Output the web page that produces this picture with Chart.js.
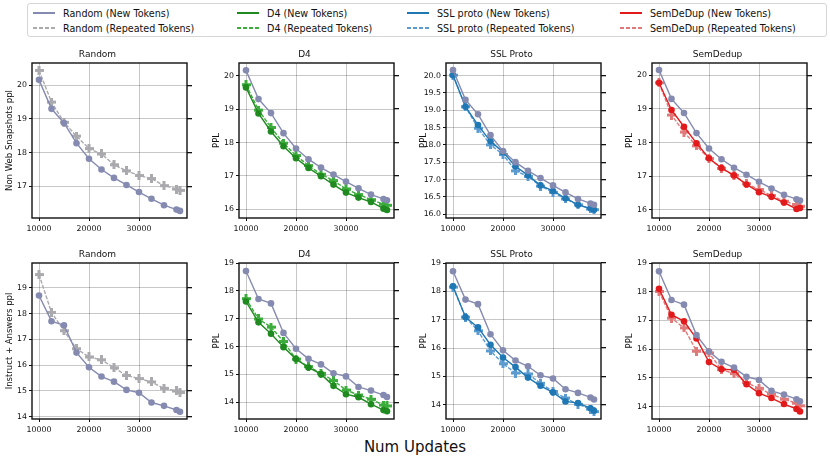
<!DOCTYPE html>
<html>
<head>
<meta charset="utf-8">
<script src="https://cdn.jsdelivr.net/npm/chart.js@4.4.1/dist/chart.umd.min.js"></script>
<style>
  body { margin: 0; background: #fff; font-family: "DejaVu Sans", sans-serif; }
  #page { position: relative; width: 830px; height: 461px; overflow: hidden; }
  .panel { position: absolute; }
  #legend { position: absolute; left: 27px; top: 3px; width: 800px; height: 34px;
            border: 1px solid #d6d6d6; border-radius: 3px; box-sizing: border-box; }
  .leg-item { position: absolute; height: 14px; display: flex; align-items: center;
              font-size: 9.6px; color: #111; white-space: nowrap; }
  .leg-line { width: 22px; height: 1.5px; margin-right: 8px; }
  #xlabel { position: absolute; left: 0; width: 830px; top: 438px; text-align: center;
            font-size: 15px; color: #111; }
</style>
</head>
<body>
<div id="page">
  <div id="legend"></div>
  <div id="xlabel">Num Updates</div>
</div>
<script>
// --- DATA ---
const updates = [10000, 12500, 15000, 17500, 20000, 22500, 25000, 27500, 30000, 32500, 35000, 37500, 38200];

// Non Web Snapshots ppl
const randomNonWebNew = [20.16, 19.30, 18.88, 18.28, 17.82, 17.50, 17.25, 17.04, 16.83, 16.63, 16.44, 16.31, 16.27];
const randomNonWebRep = [20.44, 19.50, 18.90, 18.49, 18.12, 17.96, 17.64, 17.46, 17.32, 17.23, 17.02, 16.92, 16.88];
const d4NonWebNew = [19.65, 18.87, 18.33, 17.89, 17.53, 17.24, 16.99, 16.74, 16.50, 16.35, 16.22, 16.02, 15.98];
const d4NonWebRep = [19.73, 18.97, 18.45, 17.98, 17.61, 17.31, 17.05, 16.86, 16.61, 16.44, 16.29, 16.15, 16.12];
const sslNonWebNew = [20.01, 19.10, 18.57, 18.10, 17.79, 17.38, 17.12, 16.83, 16.67, 16.46, 16.27, 16.17, 16.13];
const sslNonWebRep = [20.01, 19.10, 18.48, 18.00, 17.72, 17.25, 17.09, 16.81, 16.63, 16.44, 16.27, 16.15, 16.13];
const semNonWebNew = [19.78, 18.97, 18.47, 17.98, 17.53, 17.24, 17.02, 16.75, 16.52, 16.38, 16.21, 16.02, 16.05];
const semNonWebRep = [19.78, 18.82, 18.31, 17.90, 17.52, 17.23, 17.02, 16.77, 16.60, 16.42, 16.25, 16.15, 16.10];

// Instruct + Answers ppl
const randomInstNew = [18.71, 17.71, 17.55, 16.49, 15.92, 15.56, 15.36, 15.04, 14.93, 14.55, 14.42, 14.26, 14.19];
const randomInstRep = [19.52, 18.05, 17.34, 16.64, 16.32, 16.21, 15.90, 15.60, 15.48, 15.35, 15.10, 15.00, 14.94];
const d4InstNew = [17.62, 16.87, 16.46, 15.98, 15.55, 15.25, 15.01, 14.59, 14.29, 14.18, 13.93, 13.72, 13.68];
const d4InstRep = [17.72, 16.99, 16.70, 16.18, 15.55, 15.28, 15.04, 14.78, 14.44, 14.26, 14.11, 13.90, 13.87];
const sslInstNew = [18.18, 17.09, 16.73, 16.12, 15.67, 15.33, 14.96, 14.67, 14.44, 14.12, 14.06, 13.88, 13.79];
const sslInstRep = [18.15, 17.09, 16.61, 15.90, 15.45, 15.12, 15.09, 14.76, 14.47, 14.24, 14.02, 13.85, 13.76];
const semInstNew = [18.10, 17.20, 16.97, 16.37, 15.55, 15.30, 15.28, 14.78, 14.47, 14.30, 14.09, 13.92, 13.83];
const semInstRep = [18.01, 17.08, 16.74, 15.93, 15.87, 15.29, 15.15, 14.84, 14.64, 14.43, 14.26, 14.12, 14.03];

// Tick labels
const xTicks = [10000, 20000, 30000];
const randomNonWebTicks = [17, 18, 19, 20];
const nonWebTicks = [16, 17, 18, 19, 20];
const sslNonWebTicks = [16.0, 16.5, 17.0, 17.5, 18.0, 18.5, 19.0, 19.5, 20.0];
const instTicks = [14, 15, 16, 17, 18, 19];

// Legend / series names
const methodNames = ['Random', 'D4', 'SSL proto', 'SemDeDup'];
const newColors = ['#858bb0', '#1f8a1f', '#1f77b4', '#e31a1c'];
const repColors = ['#a9a9ae', '#3cac3c', '#5b9bd0', '#e07a7a'];

// --- HELPERS ---

// filled "plus" marker, like matplotlib's 'P'
function plusMarker(color) {
    const c = document.createElement('canvas');
    c.width = 9; c.height = 9;
    const g = c.getContext('2d');
    g.fillStyle = color;
    g.fillRect(3, 0, 3, 9);
    g.fillRect(0, 3, 9, 3);
    return c;
}

function series(values, color, repeated) {
    return {
        data: values.map((v, i) => ({ x: updates[i], y: v })),
        borderColor: color,
        backgroundColor: color,
        borderWidth: 1.4,
        borderDash: repeated ? [4, 1.5] : [],
        pointStyle: repeated ? plusMarker(color) : 'circle',
        pointRadius: 3.3,
        pointBorderWidth: 0,
        tension: 0
    };
}

// black box round the plot area (matplotlib spines)
const framePlugin = {
    id: 'frame',
    afterDraw(chart) {
        const { ctx, chartArea: a } = chart;
        ctx.save();
        ctx.strokeStyle = '#111';
        ctx.lineWidth = 1.4;
        ctx.strokeRect(a.left, a.top, a.right - a.left, a.bottom - a.top);
        ctx.restore();
    }
};

const tickFont = { family: 'DejaVu Sans', size: 7.8 };
const gridColor = 'rgba(0,0,0,0.22)';

/**
 * Builds one subplot at a given plot-area rectangle.
 */
function makePanel(p) {
    const L = 32, R = 8, T = 14, B = 18;
    const box = document.createElement('div');
    box.className = 'panel';
    box.style.left = (p.left - L) + 'px';
    box.style.top = (p.top - T) + 'px';
    const canvas = document.createElement('canvas');
    const w = L + p.w + R, h = T + p.h + B;
    canvas.width = w; canvas.height = h;
    canvas.style.width = w + 'px'; canvas.style.height = h + 'px';
    box.appendChild(canvas);
    document.getElementById('page').appendChild(box);

    const fmt = v => p.decimals ? v.toFixed(1) : String(v);
    new Chart(canvas.getContext('2d'), {
        type: 'line',
        data: { datasets: p.datasets },
        options: {
            responsive: false,
            animation: false,
            layout: { padding: 0 },
            plugins: {
                legend: { display: false },
                tooltip: { enabled: false },
                title: {
                    display: true, text: p.title, color: '#111',
                    font: { family: 'DejaVu Sans', size: 9, weight: 'normal', lineHeight: 1.2 },
                    padding: { top: 0, bottom: 3.2 }
                }
            },
            scales: {
                x: {
                    type: 'linear', min: 8600, max: 39600,
                    afterBuildTicks: s => { s.ticks = xTicks.map(v => ({ value: v })); },
                    ticks: { font: tickFont, color: '#111', padding: 3, maxRotation: 0, callback: v => String(v) },
                    grid: { color: gridColor, tickLength: 3, tickColor: '#111' },
                    border: { display: false },
                    afterFit: s => { s.height = B; }
                },
                y: {
                    position: 'left', min: p.min, max: p.max,
                    afterBuildTicks: s => { s.ticks = p.ticks.map(v => ({ value: v })); },
                    ticks: { font: tickFont, color: '#111', padding: 2, callback: v => fmt(v) },
                    grid: { color: gridColor, tickLength: 3, tickColor: '#111' },
                    border: { display: false },
                    title: { display: true, text: p.ylabel, color: '#111',
                             font: { family: 'DejaVu Sans', size: 8.5 }, padding: { top: 5, bottom: 0 } },
                    afterFit: s => { s.width = L; }
                },
                y2: {
                    position: 'right', min: p.min, max: p.max,
                    afterBuildTicks: s => { s.ticks = p.ticks.map(v => ({ value: v })); },
                    ticks: { display: false },
                    grid: { drawOnChartArea: false, tickLength: 5, tickColor: '#111', lineWidth: 1.3 },
                    border: { display: false },
                    afterFit: s => { s.width = R; }
                }
            }
        },
        plugins: [framePlugin]
    });
}

function buildLegend() {
    const legend = document.getElementById('legend');
    const colX = [5, 209, 379, 592];
    methodNames.forEach((name, i) => {
        [0, 1].forEach(row => {
            const item = document.createElement('div');
            item.className = 'leg-item';
            item.style.left = colX[i] + 'px';
            item.style.top = (row === 0 ? 2 : 17) + 'px';
            const line = document.createElement('div');
            line.className = 'leg-line';
            line.style.background = row === 0 ? newColors[i]
                : `repeating-linear-gradient(to right, ${repColors[i]} 0 4px, transparent 4px 6px)`;
            item.appendChild(line);
            item.appendChild(document.createTextNode(name + (row === 0 ? ' (New Tokens)' : ' (Repeated Tokens)')));
            legend.appendChild(item);
        });
    });
}

document.addEventListener('DOMContentLoaded', () => {
    buildLegend();

    const colLeft = [32, 239, 446, 652];
    const pw = 155;
    const topRow = { top: 63, h: 155 };
    const botRow = { top: 263, h: 156 };

    // top row: Non Web Snapshots
    makePanel({ left: colLeft[0], top: topRow.top, w: pw, h: topRow.h, title: 'Random',
        ylabel: 'Non Web Snapshots ppl', min: 16.06, max: 20.66, ticks: randomNonWebTicks,
        datasets: [series(randomNonWebNew, newColors[0], false), series(randomNonWebRep, repColors[0], true)] });
    makePanel({ left: colLeft[1], top: topRow.top, w: pw, h: topRow.h, title: 'D4',
        ylabel: 'PPL', min: 15.74, max: 20.38, ticks: nonWebTicks,
        datasets: [series(randomNonWebNew, newColors[0], false),
                   series(d4NonWebNew, newColors[1], false), series(d4NonWebRep, repColors[1], true)] });
    makePanel({ left: colLeft[2], top: topRow.top, w: pw, h: topRow.h, title: 'SSL Proto',
        ylabel: 'PPL', min: 15.89, max: 20.36, ticks: sslNonWebTicks, decimals: true,
        datasets: [series(randomNonWebNew, newColors[0], false),
                   series(sslNonWebNew, newColors[2], false), series(sslNonWebRep, repColors[2], true)] });
    makePanel({ left: colLeft[3], top: topRow.top, w: pw, h: topRow.h, title: 'SemDedup',
        ylabel: 'PPL', min: 15.75, max: 20.37, ticks: nonWebTicks,
        datasets: [series(randomNonWebNew, newColors[0], false),
                   series(semNonWebNew, newColors[3], false), series(semNonWebRep, repColors[3], true)] });

    // bottom row: Instruct + Answers
    makePanel({ left: colLeft[0], top: botRow.top, w: pw, h: botRow.h, title: 'Random',
        ylabel: 'Instruct + Answers ppl', min: 13.91, max: 19.97, ticks: instTicks,
        datasets: [series(randomInstNew, newColors[0], false), series(randomInstRep, repColors[0], true)] });
    makePanel({ left: colLeft[1], top: botRow.top, w: pw, h: botRow.h, title: 'D4',
        ylabel: 'PPL', min: 13.4, max: 19.0, ticks: instTicks,
        datasets: [series(randomInstNew, newColors[0], false),
                   series(d4InstNew, newColors[1], false), series(d4InstRep, repColors[1], true)] });
    makePanel({ left: colLeft[2], top: botRow.top, w: pw, h: botRow.h, title: 'SSL Proto',
        ylabel: 'PPL', min: 13.5, max: 19.0, ticks: instTicks,
        datasets: [series(randomInstNew, newColors[0], false),
                   series(sslInstNew, newColors[2], false), series(sslInstRep, repColors[2], true)] });
    makePanel({ left: colLeft[3], top: botRow.top, w: pw, h: botRow.h, title: 'SemDedup',
        ylabel: 'PPL', min: 13.57, max: 19.0, ticks: instTicks,
        datasets: [series(randomInstNew, newColors[0], false),
                   series(semInstNew, newColors[3], false), series(semInstRep, repColors[3], true)] });
});
</script>
</body>
</html>
